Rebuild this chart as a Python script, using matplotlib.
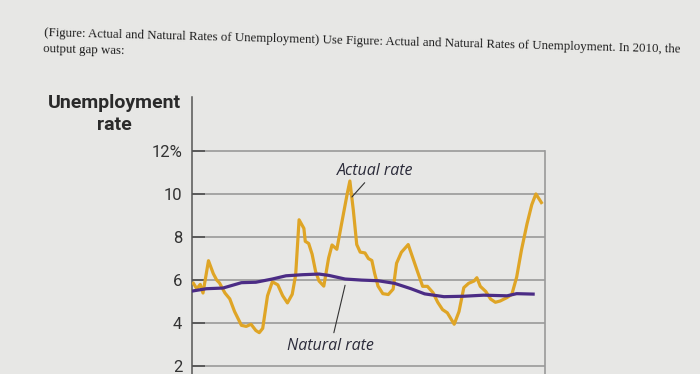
import matplotlib.pyplot as plt

# actual unemployment rate
actual_years = [1960.0, 1960.5, 1961.0, 1961.4, 1962.2, 1962.9, 1963.4, 1963.8, 1964.6, 1965.3,
                1966.0, 1967.0, 1967.7, 1968.4, 1969.1, 1969.6, 1970.1, 1970.8, 1971.5, 1972.3,
                1973.0, 1973.7, 1974.4, 1974.9, 1975.4, 1976.1, 1976.3, 1976.8, 1977.3, 1977.8,
                1978.3, 1979.0, 1979.7, 1980.2, 1980.9, 1981.6, 1982.4, 1982.8, 1983.3, 1983.8,
                1984.3, 1985.0, 1985.5, 1986.0, 1986.4, 1986.9, 1987.6, 1988.4, 1989.1, 1989.6,
                1990.3, 1991.3, 1992.0, 1992.7, 1993.4, 1994.1, 1994.9, 1995.6, 1996.3, 1997.0,
                1998.0, 1998.7, 1999.4, 2000.1, 2000.9, 2001.3, 2001.8, 2002.6, 2003.3, 2004.0,
                2004.7, 2005.7, 2006.4, 2007.1, 2007.8, 2008.6, 2009.3, 2009.9, 2010.7]
actual_rate = [5.85, 5.6, 5.8, 5.4, 6.9, 6.3, 6.0, 5.87, 5.4, 5.13,
               4.54, 3.9, 3.85, 3.95, 3.66, 3.56, 3.76, 5.27, 5.92, 5.78,
               5.28, 4.94, 5.34, 6.24, 8.8, 8.4, 7.8, 7.7, 7.2, 6.41,
               5.96, 5.72, 7.02, 7.63, 7.43, 8.63, 9.99, 10.6, 9.25, 7.65,
               7.3, 7.26, 7.0, 6.91, 6.32, 5.72, 5.37, 5.33, 5.58, 6.78,
               7.29, 7.65, 7.0, 6.35, 5.71, 5.71, 5.42, 4.97, 4.63, 4.48,
               3.95, 4.54, 5.65, 5.85, 5.96, 6.11, 5.71, 5.47, 5.12, 4.97,
               5.03, 5.19, 5.34, 6.14, 7.4, 8.6, 9.5, 10.0, 9.6]

# natural rate of unemployment
natural_years = [1960.0, 1961.9, 1964.3, 1967.0, 1969.1, 1971.5, 1973.5, 1975.9, 1978.3, 1979.7,
                 1982.1, 1984.5, 1986.9, 1989.3, 1991.7, 1993.7, 1996.5, 1999.4, 2002.3, 2005.7,
                 2007.1, 2009.5]
natural_rate = [5.5, 5.6, 5.63, 5.88, 5.9, 6.05, 6.2, 6.25, 6.28, 6.22,
                6.05, 6.0, 5.97, 5.85, 5.6, 5.36, 5.23, 5.25, 5.3, 5.27,
                5.37, 5.35]

yticks = [2, 4, 6, 8, 10, 12]
ytick_labels = ["2", "4", "6", "8", "10", "12%"]

question = ("(Figure: Actual and Natural Rates of Unemployment) Use Figure: Actual and Natural Rates "
            "of Unemployment. In 2010, the\noutput gap was:")

bg = "#e7e7e5"
fig = plt.figure(figsize=(7, 3.74), dpi=100, facecolor=bg)
ax = fig.add_axes([0.2743, 0.0, 0.504, 0.7406], facecolor=bg)

ax.plot(actual_years, actual_rate, color="#dfa526", lw=2.3, solid_joinstyle="round", zorder=3)
ax.plot(natural_years, natural_rate, color="#4b2c85", lw=2.3, zorder=4)

ax.set_xlim(1959.8, 2011.2)
ax.set_ylim(1.64, 14.5)
ax.set_xticks([])
ax.set_yticks(yticks)
ax.set_yticklabels(ytick_labels, family="Roboto", fontsize=12, color="#333333")
ax.tick_params(axis="y", direction="in", length=9, width=1.3, color="#555555", pad=7)
ax.yaxis.grid(True, color="#999999", lw=1.2)
ax.set_axisbelow(True)

for side in ["top", "bottom"]:
    ax.spines[side].set_visible(False)
ax.spines["left"].set_color("#555555")
ax.spines["left"].set_linewidth(1.1)
ax.spines["right"].set_color("#999999")
ax.spines["right"].set_linewidth(1.2)
ax.spines["right"].set_bounds(1.64, 12)

ax.annotate("Actual rate", xy=(1983.1, 9.86), xytext=(1986.5, 11.07),
            ha="center", va="center", fontsize=11.5, style="italic", family="Open Sans",
            color="#2b2b3a", arrowprops=dict(arrowstyle="-", color="#333333", lw=0.8,
                                             shrinkA=1, shrinkB=0))
ax.annotate("Natural rate", xy=(1982.1, 5.76), xytext=(1980.0, 2.93),
            ha="center", va="center", fontsize=11.5, style="italic", family="Open Sans",
            color="#2b2b3a", arrowprops=dict(arrowstyle="-", color="#333333", lw=0.8,
                                             shrinkA=2, shrinkB=0))

fig.text(114.5 / 700, 1 - 94 / 374, "Unemployment\nrate", ha="center", va="top",
         fontsize=14, fontweight="bold", family="Roboto", color="#2a2a2a",
         linespacing=1.25)

# the photo is turned a little, so the question text slopes down to the right
fig.text(44 / 700, 1 - 27 / 374, question, ha="left", va="top", fontsize=9.25,
         family="Liberation Serif", color="#1e1e1e", linespacing=1.45,
         rotation=-1.5, rotation_mode="anchor")

fig.savefig("out.png", dpi=100, facecolor=bg)
